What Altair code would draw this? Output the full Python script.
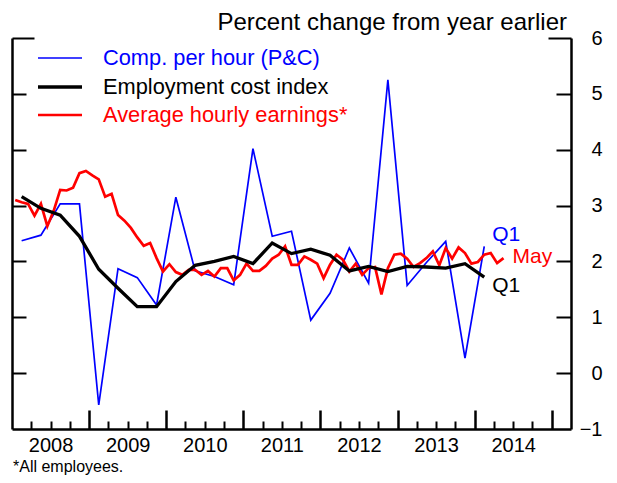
import altair as alt
import pandas as pd

# ---------------- data ----------------
quarters = pd.period_range("2008Q1", "2014Q1", freq="Q")
months = pd.period_range("2008-01", "2014-05", freq="M")

comp_per_hour = [2.37, 2.47, 3.03, 3.03,
                 -0.57, 1.87, 1.71, 1.22,
                 3.15, 1.83, 1.73, 1.58,
                 4.02, 2.45, 2.54, 0.95,
                 1.43, 2.24, 1.61, 5.25,
                 1.57, 1.98, 2.36, 0.27,
                 2.27]
eci = [3.16, 2.95, 2.83, 2.45,
       1.86, 1.52, 1.19, 1.19,
       1.64, 1.93, 2.00, 2.09,
       1.96, 2.33, 2.14, 2.22,
       2.11, 1.83, 1.91, 1.82,
       1.91, 1.90, 1.88, 1.96,
       1.72]
ahe = [3.10, 3.06, 3.03, 2.82, 3.03, 2.63, 2.91, 3.28, 3.27, 3.32, 3.58, 3.62,
       3.54, 3.47, 3.16, 3.21, 2.83, 2.73, 2.60, 2.43, 2.28, 2.33, 2.06, 1.82,
       1.95, 1.81, 1.76, 1.85, 1.85, 1.76, 1.83, 1.73, 1.88, 1.88, 1.66, 1.76,
       1.96, 1.83, 1.83, 1.92, 2.05, 2.12, 2.27, 1.94, 1.94, 2.09, 2.03, 1.96,
       1.70, 1.94, 2.12, 2.03, 1.82, 1.96, 1.76, 1.88, 1.90, 1.41, 1.88, 2.12,
       2.14, 2.05, 1.90, 1.97, 2.06, 2.18, 1.93, 2.24, 2.05, 2.25, 2.15, 1.96,
       1.99, 2.12, 2.15, 1.97, 2.06]

series_names = ["Comp. per hour (P&C)", "Employment cost index", "Average hourly earnings*"]
series_colors = ["#0000ff", "#000000", "#ff0000"]
series_widths = [1.7, 3.3, 2.7]

year_labels = [2008, 2009, 2010, 2011, 2012, 2013, 2014]
y_ticks = [-1, 0, 1, 2, 3, 4, 5, 6]

# fractional-year positions (middle of each quarter / month)
q_t = [p.year + (p.quarter - 1) / 4 + 1 / 8 for p in quarters]
m_t = [p.year + (p.month - 1) / 12 + 1 / 24 for p in months]

df_comp = pd.DataFrame({"t": q_t, "v": comp_per_hour})
df_eci = pd.DataFrame({"t": q_t, "v": eci})
df_ahe = pd.DataFrame({"t": m_t, "v": ahe})

W, H = 559, 391
FONT = "Liberation Sans"

xs = alt.Scale(domain=[2008, 2015.25], nice=False, zero=False)
ys = alt.Scale(domain=[-1, 6], nice=False, zero=False)

year_mids = [y + 0.5 for y in year_labels]
year_bounds = [y + 1 for y in year_labels]
quarter_bounds = [y + q / 4 for y in year_labels for q in (1, 2, 3)]

common = dict(grid=False, title=None)

ax_x_labels = alt.Axis(orient="bottom", values=year_mids, labelExpr="floor(datum.value)",
                       ticks=False, domain=True, domainColor="black", domainWidth=2.5,
                       labelFontSize=20, labelColor="black", labelPadding=6,
                       labelOverlap=False, labelFlush=False, **common)
ax_x_major = alt.Axis(orient="top", offset=-H, values=year_bounds, ticks=True, tickSize=19,
                      tickWidth=2.5, tickColor="black", labels=False, domain=False, **common)
ax_x_minor = alt.Axis(orient="top", offset=-H, values=quarter_bounds, ticks=True, tickSize=8,
                      tickWidth=2, tickColor="black", labels=False, domain=False, **common)

ax_y_labels = alt.Axis(orient="right", values=y_ticks, ticks=False, domain=True,
                       domainColor="black", domainWidth=2.5, labelAlign="right",
                       labelBaseline="middle", labelPadding=31, labelFontSize=20,
                       labelColor="black", labelOverlap=False, labelFlush=False, **common)
ax_y_right_ticks = alt.Axis(orient="left", offset=-W, values=[0, 1, 2, 3, 4, 5], ticks=True,
                            tickSize=15, tickWidth=2, tickColor="black", labels=False,
                            domain=False, **common)
ax_y_left = alt.Axis(orient="right", offset=-W, values=[0, 1, 2, 3, 4, 5], ticks=True,
                     tickSize=14, tickWidth=2, tickColor="black", labels=False,
                     domain=True, domainColor="black", domainWidth=2.5, **common)
ax_y_top_right = alt.Axis(orient="left", offset=-W, values=[6], ticks=True, tickSize=23,
                          tickWidth=2, tickColor="black", labels=False, domain=False, **common)
ax_y_top_left = alt.Axis(orient="right", offset=-W, values=[6], ticks=True, tickSize=22,
                         tickWidth=2, tickColor="black", labels=False, domain=False, **common)


def line(df, color, width, xaxis, yaxis):
    return alt.Chart(df).mark_line(color=color, strokeWidth=width).encode(
        x=alt.X("t:Q", scale=xs, axis=xaxis),
        y=alt.Y("v:Q", scale=ys, axis=yaxis),
    )


blue = line(df_comp, series_colors[0], series_widths[0], ax_x_labels, ax_y_labels)
red = line(df_ahe, series_colors[2], series_widths[2], ax_x_major, ax_y_right_ticks)
black = line(df_eci, series_colors[1], series_widths[1], ax_x_minor, ax_y_left)


def end_label(df_last, text, color, dx, dy, yaxis):
    d = df_last.assign(label=text)
    return alt.Chart(d).mark_text(align="left", baseline="middle", dx=dx, dy=dy,
                                  fontSize=21, color=color).encode(
        x=alt.X("t:Q", scale=xs, axis=None),
        y=alt.Y("v:Q", scale=ys, axis=yaxis),
        text="label:N",
    )


lab_blue = end_label(df_comp.tail(1), "Q1", series_colors[0], 8, -11, ax_y_top_right)
lab_red = end_label(df_ahe.tail(1), "May", series_colors[2], 9, -1, ax_y_top_left)
lab_black = end_label(df_eci.tail(1), "Q1", series_colors[1], 8, 9,
                      alt.Axis(labels=False, ticks=False, domain=False, orient="left",
                               offset=-W, values=[6], grid=False, title=None))

one = pd.DataFrame({"k": [0]})
legend_y = [20, 49, 77]
legend_layers = []
for name, color, width, ly in zip(series_names, series_colors, series_widths, legend_y):
    legend_layers.append(
        alt.Chart(one).mark_rule(color=color, strokeWidth=width).encode(
            x=alt.value(26), x2=alt.value(70), y=alt.value(ly))
    )
    legend_layers.append(
        alt.Chart(one).mark_text(align="left", baseline="middle", fontSize=21.8, color=color).encode(
            x=alt.value(91), y=alt.value(ly), text=alt.value(name))
    )

title_txt = alt.Chart(one).mark_text(align="right", baseline="alphabetic", fontSize=24,
                                     color="black").encode(
    x=alt.value(555), y=alt.value(-8), text=alt.value("Percent change from year earlier"))
foot_txt = alt.Chart(one).mark_text(align="left", baseline="alphabetic", fontSize=16,
                                    color="black").encode(
    x=alt.value(1), y=alt.value(433.5), text=alt.value("*All employees."))

chart = alt.layer(
    blue, red, black, lab_blue, lab_red, lab_black, *legend_layers, title_txt, foot_txt
).resolve_axis(x="independent", y="independent").properties(
    width=W, height=H,
    autosize="none",
    padding={"left": 4, "top": 30, "right": 38, "bottom": 46},
).configure(font=FONT).configure_view(strokeWidth=0)

chart.save("out.html", embed_options={"renderer": "svg", "actions": False})
